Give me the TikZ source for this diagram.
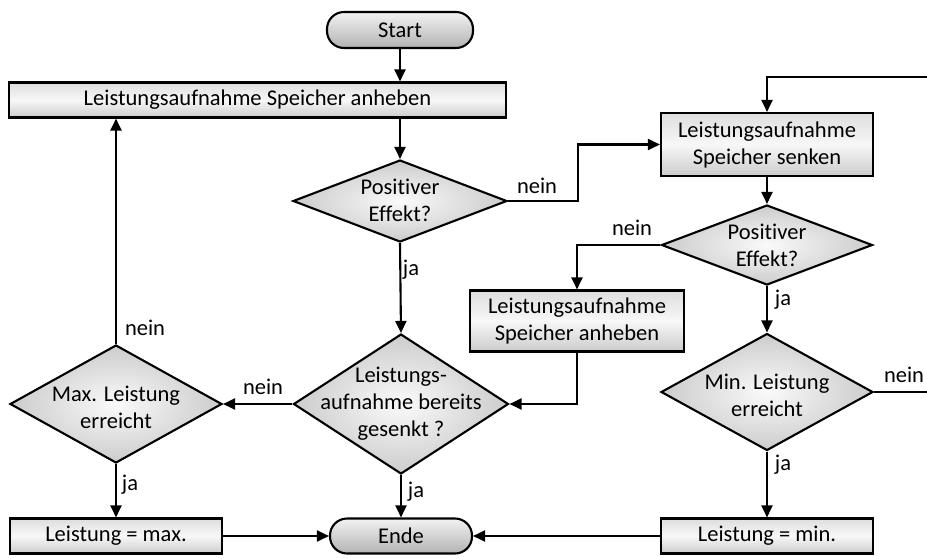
\documentclass[tikz,border=0pt]{standalone}
\usepackage{fontspec}
\setmainfont[Ligatures=NoCommon]{Carlito}
\usetikzlibrary{shapes.geometric,arrows.meta}
\begin{document}
\begin{tikzpicture}[x=1pt,y=-1pt,
  every node/.style={font=\fontsize{22.5}{27}\selectfont},
  proc/.style={draw, line width=2.1pt, rectangle, inner sep=0pt, align=center,
    top color=black!13, bottom color=black!20, middle color=black!3},
  term/.style={draw, line width=2.1pt, rectangle, rounded corners=17pt, inner sep=0pt,
    top color=black!5, bottom color=black!30},
  dia/.style={draw, line width=2.1pt, diamond, inner sep=0pt,
    inner color=black!2, outer color=black!20},
  txt/.style={align=center, inner sep=0pt},
  lbl/.style={inner sep=0pt},
  conn/.style={line width=2.1pt},
  arr/.style={conn, -{Triangle[length=12pt,width=11pt]}}]

\useasboundingbox (0,0) rectangle (927,558);

% nodes of the flow chart
\node[term, minimum width=146pt, minimum height=36pt] (start) at (400,30) {Start};
\node[proc, minimum width=497pt, minimum height=35pt] (b1) at (257.5,100) {Leistungsaufnahme Speicher anheben};

\node[dia, minimum width=214pt, minimum height=82pt] (d1) at (400,201) {};
\node[txt] (d1t) at ([yshift=1pt]d1.center) {Positiver\\Effekt?};

\node[proc, minimum width=212pt, minimum height=63pt] (bs) at (767,144.5) {Leistungsaufnahme\\Speicher senken};

\node[dia, minimum width=211pt, minimum height=80pt] (d3) at (767,245) {};
\node[txt] (d3t) at (d3) {Positiver\\Effekt?};

\node[proc, minimum width=214pt, minimum height=61pt] (b2) at (577,321) {Leistungsaufnahme\\Speicher anheben};

\node[dia, minimum width=215pt, minimum height=140pt] (d2) at (401,404) {};
\node[txt] (d2t) at (d2) {Leistungs-\\aufnahme bereits\\gesenkt ?};

\node[dia, minimum width=212pt, minimum height=118pt] (d4) at (116,404) {};
\node[txt] (d4t) at ([yshift=-3pt]d4.center) {Max. Leistung\\erreicht};

\node[dia, minimum width=212pt, minimum height=117pt] (d5) at (767,392) {};
\node[txt] (d5t) at ([yshift=-3pt]d5.center) {Min. Leistung\\erreicht};

\node[proc, minimum width=212pt, minimum height=35pt] (bm) at (116,536) {Leistung = max.};
\node[term, minimum width=142pt, minimum height=35pt] (ende) at (401,536) {Ende};
\node[proc, minimum width=212pt, minimum height=35pt] (bn) at (767,536) {Leistung = min.};

% loose ends running off the right border
\coordinate (rin) at (927,77);
\coordinate (rout) at (927,392);

% connectors
\draw[arr] (start.south) -- (start.south |- b1.north);
\draw[arr] (b1.south -| d1.north) -- (d1.north);
\draw[arr] (d1.east) -- ++(70,0) |- (bs.west);
\draw[arr] (rin) -| (bs.north);
\draw[arr] (bs.south) -- (d3.north);
\draw[arr] (d3.west) -| (b2.north);
\draw[arr] (b2.south) |- (d2.east);
\draw[arr] (d1.south) -- (d2.north);
\draw[arr] (d2.west) -- (d4.east);
\draw[arr] (d4.north) -- (d4.north |- b1.south);
\draw[arr] (d4.south) -- (bm.north);
\draw[arr] (d2.south) -- (ende.north);
\draw[arr] (bm.east) -- (ende.west);
\draw[arr] (d3.south) -- (d5.north);
\draw[conn] (d5.east) -- (rout);
\draw[arr] (d5.south) -- (bn.north);
\draw[arr] (bn.west) -- (ende.east);

% branch labels
\node[lbl] (l1) at (537,186) {nein};
\node[lbl] (l2) at (411,270) {ja};
\node[lbl] (l3) at (632,228) {nein};
\node[lbl] (l4) at (783,300) {ja};
\node[lbl] (l5) at (263,387) {nein};
\node[lbl] (l6) at (145,328) {nein};
\node[lbl] (l7) at (130,485) {ja};
\node[lbl] (l8) at (416,492) {ja};
\node[lbl] (l9) at (904,375) {nein};
\node[lbl] (l10) at (783,465) {ja};
\end{tikzpicture}
\end{document}
